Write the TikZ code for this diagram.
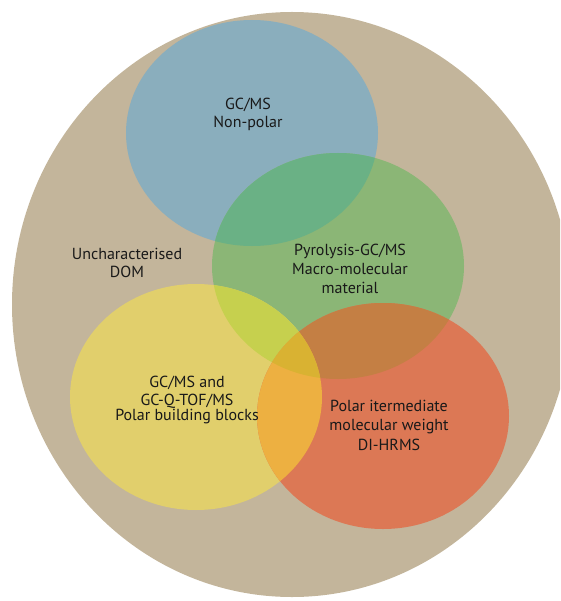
\documentclass[tikz,border=0pt]{standalone}
\usepackage{fontspec}
\setmainfont{PT Sans}
\definecolor{tanc}{HTML}{C3B59B}
\definecolor{bluec}{HTML}{8AAEBD}
\definecolor{greenc}{HTML}{8BB676}
\definecolor{yellowc}{HTML}{E1CF6C}
\definecolor{redc}{HTML}{DC7855}
\definecolor{bgc}{HTML}{6AB185}
\definecolor{ygc}{HTML}{C6D04E}
\definecolor{rgc}{HTML}{C47F44}
\definecolor{yrc}{HTML}{EDB041}
\definecolor{yrgc}{HTML}{D9B232}
\tikzset{lbl/.style={align=center, text=black!90, font=\fontsize{16}{18.7}\selectfont, inner sep=0pt}}
\begin{document}
\begin{tikzpicture}[x=1pt,y=-1pt]
\useasboundingbox (0,0) rectangle (560,601);
\clip (0,0) rectangle (560,601);
\def\bigE{(292,304.5) ellipse [x radius=280pt, y radius=292.5pt]}
\def\blueE{(252,133) ellipse [x radius=126pt, y radius=113pt]}
\def\greenE{(338,266) ellipse [x radius=126pt, y radius=113pt]}
\def\yellowE{(196,397) ellipse [x radius=126pt, y radius=113pt]}
\def\redE{(383,416) ellipse [x radius=126pt, y radius=113pt]}
\fill[tanc] \bigE;
\fill[bluec] \blueE;
\fill[greenc] \greenE;
\fill[yellowc] \yellowE;
\fill[redc] \redE;
\begin{scope}\clip \greenE; \fill[bgc] \blueE; \end{scope}
\begin{scope}\clip \yellowE; \fill[ygc] \greenE; \end{scope}
\begin{scope}\clip \redE; \fill[rgc] \greenE; \end{scope}
\begin{scope}\clip \yellowE; \fill[yrc] \redE; \end{scope}
\begin{scope}\clip \yellowE; \clip \redE; \fill[yrgc] \greenE; \end{scope}
\node[lbl] (np) at (248,114.5) {GC/MS\\Non-polar};
\node[lbl] (unc) at (127,263) {Uncharacterised\\DOM};
\node[lbl] (pyr) at (350,269) {Pyrolysis-GC/MS\\Macro-molecular\\material};
\node[lbl] (pbb) at (187,400) {GC/MS and\\GC-Q-TOF/MS\\[-3.5pt]Polar building blocks};
\node[lbl] (pim) at (389,425.5) {Polar itermediate\\molecular weight\\[1.5pt]DI-HRMS};
\end{tikzpicture}
\end{document}
